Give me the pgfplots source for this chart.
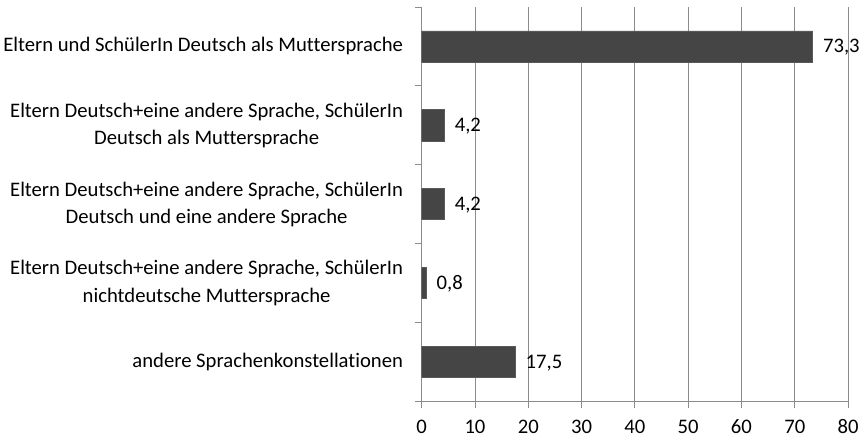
\documentclass[border=0pt]{standalone}
\usepackage{pgfplots}
\pgfplotsset{compat=1.18}
\usepackage{fontspec}
\setmainfont[Ligatures={NoCommon}, Numbers={Lining}]{Carlito}
\newcommand\lf{\fontsize{20.5}{27}\selectfont}
\definecolor{barc}{HTML}{454545}
\definecolor{gridc}{HTML}{8C8C8C}
\begin{document}
\begin{tikzpicture}
\begin{axis}[
  width=423pt, height=391pt, scale only axis,
  xmin=0, xmax=80, ymin=-0.5, ymax=4.5,
  xbar, bar width=31pt,
  axis x line=bottom, axis y line=left,
  axis line style={-, color=gridc, line width=0.8pt},
  xtick={0,10,...,80}, xmajorgrids,
  grid style={gridc, line width=0.8pt},
  ytick={0,...,4},
  yticklabels={
    {andere Sprachenkonstellationen},
    {Eltern Deutsch+eine andere Sprache, SchülerIn\\nichtdeutsche Muttersprache},
    {Eltern Deutsch+eine andere Sprache, SchülerIn\\Deutsch und eine andere Sprache},
    {Eltern Deutsch+eine andere Sprache, SchülerIn\\Deutsch als Muttersprache},
    {Eltern und SchülerIn Deutsch als Muttersprache}},
  major y tick style={draw=none},
  minor ytick={-0.5,0.5,...,4.5},
  minor y tick style={gridc, line width=0.8pt},
  x tick style={gridc, line width=0.8pt},
  tick align=outside,
  major tick length=7pt, minor tick length=7pt,
  yticklabel style={align=center, font=\lf, xshift=-8pt},
  xticklabel style={font=\lf, text height=14pt, text depth=4pt, yshift=-8pt},
  /pgf/number format/assume math mode=true,
  nodes near coords,
  nodes near coords style={font=\lf, anchor=west, xshift=7pt, yshift=-1pt, text=black,
    /pgf/number format/.cd, fixed, precision=1, zerofill, use comma},
]
\addplot[fill=barc, draw=gray!70!black, line width=0.6pt] coordinates {
  (17.5,0) (0.8,1) (4.2,2) (4.2,3) (73.3,4)};
\end{axis}
\path ([yshift=7pt]current axis.north west);
\end{tikzpicture}
\end{document}
